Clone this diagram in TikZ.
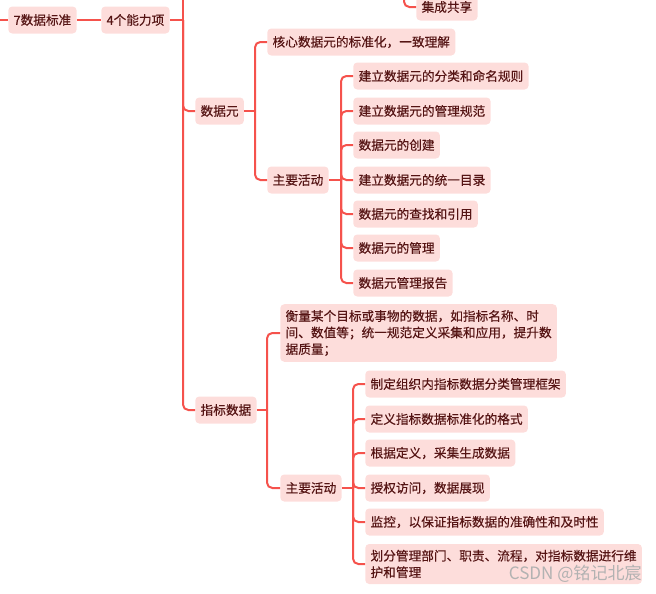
\documentclass[tikz,border=0pt]{standalone}
\usepackage{fontspec}
\newfontfamily\cjk[FakeBold=0.3]{Noto Sans CJK SC}
\newfontfamily\cjkwm{Noto Sans CJK SC}
\definecolor{lineC}{RGB}{245,82,76}
\definecolor{boxC}{RGB}{253,221,219}
\definecolor{txtC}{RGB}{85,20,20}
\begin{document}
\begin{tikzpicture}[x=0.75pt,y=-0.75pt,
  box/.style={fill=boxC, rounded corners=3pt, anchor=west, inner xsep=4pt, inner ysep=0pt,
    minimum height=20.25pt, text=txtC, font=\cjk\fontsize{9.5}{12.4}\selectfont},
  multi/.style={box, align=left, inner ysep=4.4pt},
  conn/.style={draw=lineC, line width=1.5pt, rounded corners=4pt}]
\useasboundingbox (0,0) rectangle (656,593);
\clip (0,0) rectangle (656,593);
% nodes
\node[box] (root) at (8,20) {7数据标准};
\node[box] (cap) at (101,20) {4个能力项};
\node[box] (jc) at (416,7) {集成共享};
\node[box] (sjy) at (195,111) {数据元};
\node[box] (hx) at (267,42) {核心数据元的标准化，一致理解};
\node[box] (zy1) at (267,180) {主要活动};
\node[box] (a1) at (353,76) {建立数据元的分类和命名规则};
\node[box] (a2) at (353,111) {建立数据元的管理规范};
\node[box] (a3) at (353,145) {数据元的创建};
\node[box] (a4) at (353,180) {建立数据元的统一目录};
\node[box] (a5) at (353,214) {数据元的查找和引用};
\node[box] (a6) at (353,248) {数据元的管理};
\node[box] (a7) at (353,283) {数据元管理报告};
\node[box] (zb) at (195,410) {指标数据};
\node[multi] (hl) at (280,333) {衡量某个目标或事物的数据，如指标名称、时\\间、数值等；统一规范定义采集和应用，提升数\\据质量；};
\node[box] (zy2) at (280,488) {主要活动};
\node[box] (b1) at (365,384) {制定组织内指标数据分类管理框架};
\node[box] (b2) at (365,419) {定义指标数据标准化的格式};
\node[box] (b3) at (365,453) {根据定义，采集生成数据};
\node[box] (b4) at (365,488) {授权访问，数据展现};
\node[box] (b5) at (365,522) {监控，以保证指标数据的准确性和及时性};
\node[multi] (b6) at (365,564) {划分管理部门、职责、流程，对指标数据进行维\\护和管理};
% spine coordinates
\coordinate (lt) at (-2,20);
\coordinate (ttop) at (183,-5);
\coordinate (t0) at (183,20);
\coordinate (jtop) at (404,-5);
\coordinate (s1) at (255,111);
\coordinate (s2) at (341,180);
\coordinate (s3) at (267,410);
\coordinate (s4) at (353,488);
% connectors
\draw[conn] (lt) -- (root.west);
\draw[conn] (root.east) -- (cap.west);
\draw[conn] (cap.east) -- (t0);
\draw[conn] (ttop) -- (t0);
\draw[conn] (t0) |- (sjy.west);
\draw[conn] (t0) |- (zb.west);
\draw[conn] (jtop) |- (jc.west);
\draw[conn] (sjy.east) -- (s1);
\draw[conn] (s1) |- (hx.west);
\draw[conn] (s1) |- (zy1.west);
\draw[conn] (zy1.east) -- (s2);
\foreach \n in {a1,a2,a3,a4,a5,a6,a7} \draw[conn] (s2) |- (\n.west);
\draw[conn] (zb.east) -- (s3);
\draw[conn] (s3) |- (hl.west);
\draw[conn] (s3) |- (zy2.west);
\draw[conn] (zy2.east) -- (s4);
\foreach \n in {b1,b2,b3,b4,b5,b6} \draw[conn] (s4) |- (\n.west);
% watermark
\node[anchor=east, text=gray!60, font=\cjkwm\fontsize{12.8}{15}\selectfont, inner sep=0pt] (wm) at (642,574) {CSDN @铭记北宸};
\end{tikzpicture}
\end{document}
